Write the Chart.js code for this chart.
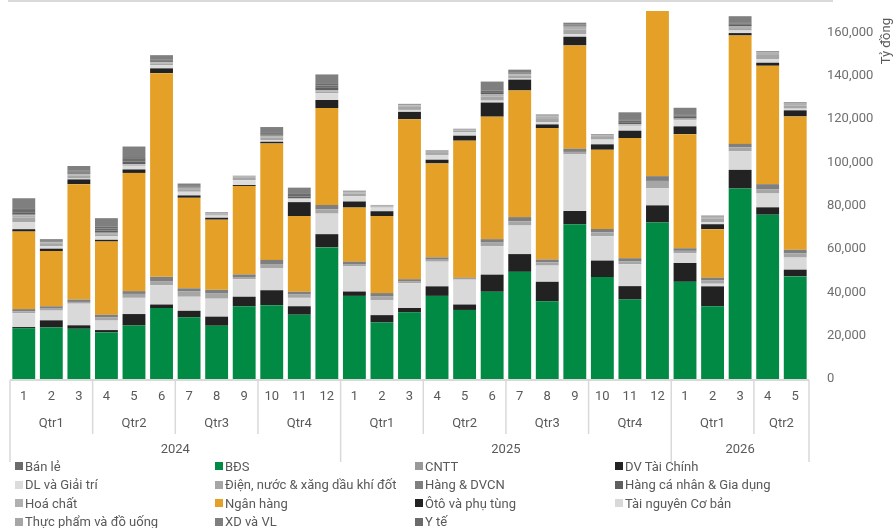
<!DOCTYPE html>
<html>
<head>
<meta charset="utf-8">
<script src="https://cdn.jsdelivr.net/npm/chart.js@4.4.1/dist/chart.umd.min.js"></script>
<style>
  body { margin: 0; background: #fff; font-family: Roboto, "Noto Sans", sans-serif; }
  #wrap { position: relative; width: 894px; height: 528px; overflow: hidden; }
  #chartBox { position: absolute; left: 0; top: 0; width: 894px; height: 462px; }
  #legend {
    position: absolute; left: 15px; top: 457px;
    display: grid; grid-template-columns: 200px 200px 200px 200px;
    grid-auto-rows: 18.5px; font-size: 13px; color: #595959;
  }
  #legend .item { display: flex; align-items: center; white-space: nowrap; }
  #legend .box { width: 8px; height: 8px; margin-right: 2px; flex: none; }
</style>
</head>
<body>
<div id="wrap">
  <div id="chartBox"><canvas id="bondChart"></canvas></div>
  <div id="legend"></div>
</div>
<script>
// categories
const years = ['2024', '2025', '2026'];
const monthsPerYear = [12, 12, 5];
const yTicks = [0, 20000, 40000, 60000, 80000, 100000, 120000, 140000, 160000];
const axisTitle = 'Tỷ đồng';

// series values (tỷ đồng), one per month, stacked bottom -> top
const bds = [23400, 23800, 23200, 21500, 24700, 32800, 28500, 24600, 33600, 34100, 29700, 60800, 38400, 26100, 30800, 38400, 31900, 40300, 49500, 35900, 71500, 47100, 36700, 72300, 44900, 33600, 88000, 75900, 47400];
const dvTaiChinh = [600, 3300, 1600, 1100, 5300, 1600, 3000, 4200, 4400, 6900, 3900, 6100, 2000, 3400, 2000, 4400, 2500, 7900, 8200, 9000, 6100, 7600, 6200, 7900, 8700, 9200, 8600, 3400, 3100];
const taiNguyen = [6400, 4500, 10000, 4400, 7500, 8900, 6500, 8300, 8100, 10100, 3900, 9500, 11800, 6800, 11400, 11400, 11500, 13100, 13200, 7500, 26300, 11200, 10100, 7900, 4500, 1200, 8600, 6400, 5600];
const dienNuoc = [800, 900, 800, 1400, 1800, 1700, 2400, 2600, 1000, 2000, 1500, 2000, 900, 2000, 800, 900, 400, 1700, 1900, 1500, 1000, 1800, 1400, 3400, 1100, 1500, 1800, 2000, 2000];
const xdVL = [1100, 1100, 1100, 1300, 1300, 2200, 1500, 1500, 1200, 1900, 1300, 2000, 1100, 1400, 1100, 1100, 500, 1600, 2000, 1300, 1500, 1600, 1400, 2200, 1200, 1300, 1600, 2300, 1600];
const nganHang = [35800, 25500, 53300, 33800, 54600, 94100, 41800, 32400, 40800, 53800, 35000, 44800, 25000, 35600, 73900, 43400, 63300, 56600, 58500, 60700, 47700, 36600, 55500, 79000, 52700, 22400, 50100, 54700, 61600];
const otoPhuTung = [1100, 1100, 2200, 800, 1600, 2200, 1100, 900, 500, 800, 6400, 3700, 2800, 2200, 3400, 1700, 2300, 6500, 5000, 1700, 4000, 2500, 3400, 1500, 3600, 2300, 1100, 1400, 2800];
const dlGiaiTri = [3300, 1100, 400, 1600, 1700, 1400, 1700, 1000, 2200, 800, 1400, 3100, 2500, 1700, 900, 2200, 1700, 900, 500, 1100, 1200, 2200, 2300, 1000, 2800, 900, 1200, 1600, 800];
const thucPham = [2000, 1100, 1300, 1000, 500, 900, 1200, 600, 1100, 1200, 300, 800, 1200, 500, 1400, 900, 600, 1800, 1300, 1800, 2200, 1200, 500, 900, 500, 1600, 1100, 2000, 1500];
const hoaChat = [1000, 600, 700, 500, 200, 500, 600, 300, 500, 600, 200, 400, 600, 300, 700, 500, 400, 900, 700, 900, 1100, 600, 200, 400, 200, 800, 600, 1000, 700];
const cntt = [400, 200, 200, 200, 100, 200, 100, 100, 200, 200, 0, 200, 200, 100, 200, 200, 100, 300, 200, 300, 400, 200, 100, 200, 100, 200, 200, 300, 300];
const hangCaNhan = [1100, 200, 500, 1000, 1200, 500, 300, 100, 0, 600, 700, 1100, 100, 0, 100, 100, 100, 900, 300, 100, 200, 100, 800, 100, 800, 100, 700, 100, 100];
const banLe = [1100, 200, 500, 1000, 1200, 400, 300, 100, 100, 600, 700, 1100, 100, 100, 100, 100, 100, 800, 300, 100, 300, 100, 800, 100, 700, 100, 700, 100, 100];
const yTe = [800, 200, 400, 700, 800, 300, 200, 0, 0, 400, 500, 700, 0, 0, 0, 0, 0, 600, 200, 0, 200, 0, 600, 0, 500, 0, 500, 0, 0];
const hangDVCN = [4600, 800, 2200, 4000, 4900, 1900, 1100, 300, 200, 2400, 2900, 4400, 300, 200, 300, 300, 200, 3500, 1100, 300, 900, 300, 3200, 300, 3000, 300, 2800, 300, 300];

// legend is alphabetical, stacking is not
const legendOrder = ['Bán lẻ', 'BĐS', 'CNTT', 'DV Tài Chính', 'DL và Giải trí', 'Điện, nước & xăng dầu khí đốt',
  'Hàng & DVCN', 'Hàng cá nhân & Gia dụng', 'Hoá chất', 'Ngân hàng', 'Ôtô và phụ tùng', 'Tài nguyên Cơ bản',
  'Thực phẩm và đồ uống', 'XD và VL', 'Y tế'];

const months = [];
years.forEach((y, k) => {
  for (let m = 1; m <= monthsPerYear[k]; m++) months.push(String(m));
});

const series = [
  { label: 'BĐS', data: bds, color: '#008a43' },
  { label: 'DV Tài Chính', data: dvTaiChinh, color: '#222222' },
  { label: 'Tài nguyên Cơ bản', data: taiNguyen, color: '#d9d9d9' },
  { label: 'Điện, nước & xăng dầu khí đốt', data: dienNuoc, color: '#a6a6a6' },
  { label: 'XD và VL', data: xdVL, color: '#7f7f7f' },
  { label: 'Ngân hàng', data: nganHang, color: '#e4a027' },
  { label: 'Ôtô và phụ tùng', data: otoPhuTung, color: '#222222' },
  { label: 'DL và Giải trí', data: dlGiaiTri, color: '#dcdcdc' },
  { label: 'Thực phẩm và đồ uống', data: thucPham, color: '#a6a6a6' },
  { label: 'Hoá chất', data: hoaChat, color: '#b0b0b0' },
  { label: 'CNTT', data: cntt, color: '#999999' },
  { label: 'Hàng cá nhân & Gia dụng', data: hangCaNhan, color: '#5f5f5f' },
  { label: 'Bán lẻ', data: banLe, color: '#6b6b6b' },
  { label: 'Y tế', data: yTe, color: '#6b6b6b' },
  { label: 'Hàng & DVCN', data: hangDVCN, color: '#7f7f7f' }
];

const lineColor = '#d9d9d9';
const textColor = '#595959';

// draws the three-level month / quarter / year axis, frame lines and the axis title
const groupAxis = {
  id: 'groupAxis',
  afterDraw(chart) {
    const ctx = chart.ctx;
    const x = chart.scales.x;
    const area = chart.chartArea;
    const n = months.length;
    const step = (x.getPixelForValue(n - 1) - x.getPixelForValue(0)) / (n - 1);
    const edge = i => x.getPixelForValue(i) - step / 2;
    const base = area.bottom + 1;

    ctx.save();
    ctx.strokeStyle = lineColor;
    ctx.lineWidth = 2;
    // top frame line
    ctx.beginPath();
    ctx.moveTo(8, 1);
    ctx.lineTo(833, 1);
    ctx.stroke();
    // axis line
    ctx.beginPath();
    ctx.moveTo(edge(0), base);
    ctx.lineTo(edge(n), base);
    ctx.stroke();

    ctx.lineWidth = 1.5;
    ctx.font = '13px Roboto, "Noto Sans", sans-serif';
    ctx.fillStyle = textColor;
    ctx.textAlign = 'center';
    ctx.textBaseline = 'middle';

    // month labels
    months.forEach((m, i) => ctx.fillText(m, x.getPixelForValue(i), base + 17));

    // quarter + year groups
    let start = 0;
    years.forEach((y, k) => {
      const count = monthsPerYear[k];
      for (let q = 0; q * 3 < count; q++) {
        const a = start + q * 3;
        const b = Math.min(start + q * 3 + 3, start + count);
        ctx.fillText('Qtr' + (q + 1), (edge(a) + edge(b)) / 2, base + 44);
        if (q > 0) {
          ctx.beginPath();
          ctx.moveTo(edge(a), base);
          ctx.lineTo(edge(a), base + 54);
          ctx.stroke();
        }
      }
      ctx.fillText(y, (edge(start) + edge(start + count)) / 2, base + 70);
      ctx.beginPath();
      ctx.moveTo(edge(start), base);
      ctx.lineTo(edge(start), base + 82);
      ctx.stroke();
      start += count;
    });
    ctx.beginPath();
    ctx.moveTo(edge(n), base);
    ctx.lineTo(edge(n), base + 82);
    ctx.stroke();

    // axis title, reading bottom to top, aligned to the top
    ctx.translate(887, 18);
    ctx.rotate(-Math.PI / 2);
    ctx.textAlign = 'right';
    ctx.fillText(axisTitle, 0, 0);
    ctx.restore();
  }
};

const chart = new Chart(document.getElementById('bondChart'), {
  type: 'bar',
  data: {
    labels: months,
    datasets: series.map(s => ({
      label: s.label,
      data: s.data,
      backgroundColor: s.color,
      borderWidth: 0,
      barPercentage: 0.83,
      categoryPercentage: 1
    }))
  },
  options: {
    responsive: true,
    maintainAspectRatio: false,
    animation: false,
    layout: { padding: { left: 10, top: 11, bottom: 83, right: 0 } },
    plugins: {
      legend: { display: false },
      tooltip: { enabled: false }
    },
    scales: {
      x: {
        stacked: true,
        display: false
      },
      y: {
        stacked: true,
        position: 'right',
        min: 0,
        max: 170000,
        grid: { display: false },
        border: { display: false },
        afterFit: scale => {
          scale.width = 85;
          scale.paddingTop = 0;
          scale.paddingBottom = 0;
        },
        afterBuildTicks: scale => { scale.ticks = yTicks.map(v => ({ value: v })); },
        ticks: {
          padding: 10,
          color: '#6f6f6f',
          font: { family: 'Roboto', size: 13 },
          callback: v => v.toLocaleString('en-US')
        }
      }
    }
  },
  plugins: [groupAxis]
});

// HTML legend in alphabetical order, four columns
const legendBox = document.getElementById('legend');
legendOrder.forEach(name => {
  const s = series.find(d => d.label === name);
  const item = document.createElement('div');
  item.className = 'item';
  item.innerHTML = `<span class="box" style="background:${s.color}"></span><span>${name}</span>`;
  legendBox.appendChild(item);
});
</script>
</body>
</html>
